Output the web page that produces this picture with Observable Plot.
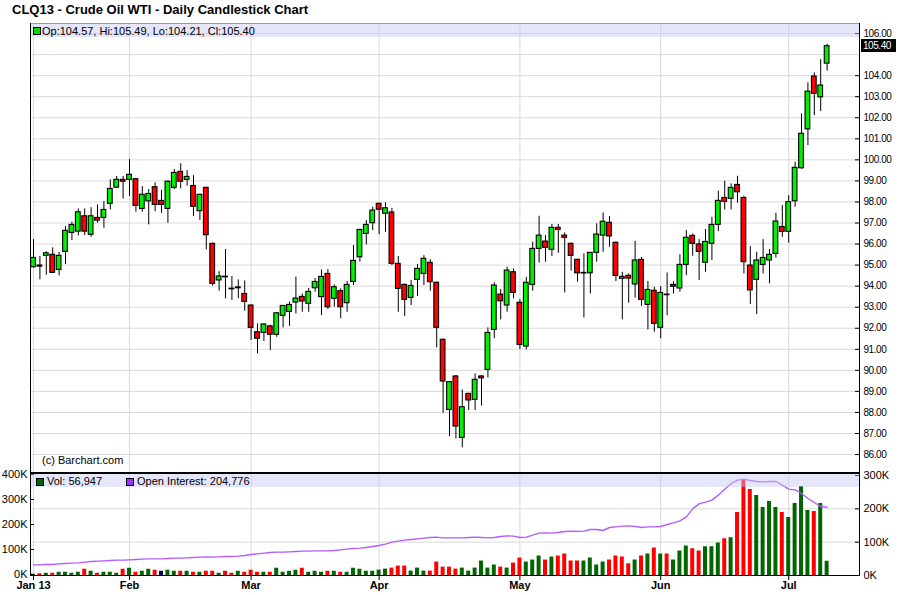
<!DOCTYPE html>
<html><head><meta charset="utf-8">
<script src="https://cdn.jsdelivr.net/npm/d3@7"></script>
<script src="https://cdn.jsdelivr.net/npm/@observablehq/plot@0.6"></script>
<style>
body{margin:0;background:#fff;font-family:"Liberation Sans",Arial,sans-serif;}
#wrap{position:relative;width:900px;height:595px;overflow:hidden;background:#fff;}
.abs{position:absolute;white-space:nowrap;}
</style></head><body><div id="wrap"></div><script>
// ---- data (CLQ13 daily, Jan 10 2013 .. Jul 10 2013) ----
const opens = [94.90,94.93,95.44,95.49,94.77,95.63,96.53,96.59,97.32,96.44,
97.24,97.24,97.91,98.68,99.05,99.05,99.08,97.67,98.03,98.70,
98.05,97.67,98.67,99.43,99.05,98.76,97.56,98.67,96.01,94.27,
94.45,93.88,93.90,93.63,93.08,91.81,91.78,92.09,91.69,92.59,
92.78,93.22,93.49,93.16,93.90,93.48,94.58,93.40,93.76,93.19,
94.20,95.37,96.48,96.99,97.91,97.44,97.50,95.06,94.06,93.44,
94.30,94.58,95.11,94.16,91.45,88.12,89.71,86.79,88.88,88.60,
89.71,90.02,91.92,93.60,93.08,94.66,93.21,91.13,94.06,95.77,
96.12,95.73,96.77,96.40,96.01,95.25,94.60,94.61,95.58,96.40,
97.01,96.06,94.35,94.49,94.08,95.25,93.11,93.78,92.02,93.60,
94.06,93.89,95.01,96.39,95.98,95.11,96.01,96.91,98.19,98.15,
98.81,98.19,94.98,94.30,95.01,95.22,95.53,96.81,96.58,98.03,
99.60,101.45,103.96,102.97,104.57];
const highs = [96.21,95.41,95.64,95.82,95.60,96.83,97.04,97.67,97.67,97.73,
97.86,98.02,99.05,99.21,99.21,100.01,99.12,98.73,98.59,98.91,
98.54,99.00,99.54,99.81,99.49,99.25,98.36,98.70,96.05,94.69,
95.74,94.46,94.30,94.25,93.10,92.21,92.21,92.15,92.75,93.08,
93.24,94.43,93.63,93.89,94.36,94.77,94.79,94.06,93.87,94.22,
95.93,96.70,97.12,97.75,97.95,97.96,97.70,95.41,94.10,94.27,
95.03,95.45,95.26,94.20,91.50,89.46,89.75,89.07,88.92,89.83,
89.75,92.02,94.16,93.84,94.90,94.82,93.36,94.42,96.09,97.32,
96.40,96.93,96.93,96.53,96.05,95.28,95.53,95.60,96.96,97.48,
97.31,96.10,94.66,94.58,96.13,95.37,94.22,93.95,93.98,94.63,
94.22,95.49,96.64,96.48,96.21,96.69,97.27,98.51,98.99,98.86,
99.22,98.27,95.88,95.61,96.21,95.74,97.46,97.83,98.30,99.89,
102.19,103.66,104.13,104.76,105.49];
const lows = [94.85,94.30,94.52,94.60,94.49,95.03,96.17,96.39,96.40,96.32,
96.99,96.75,97.62,98.65,98.13,98.26,97.51,97.51,96.91,97.54,
97.46,96.99,98.59,98.62,98.75,97.31,97.12,95.72,94.00,93.76,
93.40,93.32,93.40,92.81,91.42,90.78,91.37,90.94,91.57,92.02,
92.09,92.68,92.76,92.76,93.71,92.60,92.89,93.00,92.45,92.76,
94.03,95.14,95.96,96.64,96.44,96.56,94.98,92.76,92.56,93.08,
93.51,94.03,93.76,91.07,87.96,86.85,86.74,86.32,88.09,88.09,
88.30,89.64,91.50,92.40,92.76,93.40,90.99,90.97,93.76,95.09,
95.14,95.41,95.56,93.68,94.71,94.19,92.49,93.63,95.14,95.61,
95.85,94.22,92.40,93.19,93.43,93.04,91.92,91.81,91.50,92.60,
93.63,93.71,94.50,95.42,94.27,94.66,95.22,96.59,97.62,97.62,
97.94,94.58,93.13,92.65,94.58,94.11,95.33,96.32,96.04,97.75,
99.55,100.68,102.10,102.29,104.21];
const closes = [95.34,94.98,95.56,94.63,95.44,96.63,96.91,97.51,96.59,97.32,
97.11,97.62,98.62,99.05,98.96,99.29,97.81,98.34,98.38,97.86,
97.86,98.96,99.38,98.96,99.19,97.77,98.34,96.42,94.11,94.46,
94.42,93.85,93.94,93.25,92.02,91.50,92.18,91.69,92.71,93.06,
93.11,93.41,93.27,93.73,94.20,94.44,93.00,93.95,93.00,94.06,
95.20,96.67,96.91,97.59,97.63,97.70,95.06,93.87,93.35,94.01,
94.82,95.30,94.19,92.02,89.47,89.44,87.33,88.25,88.57,89.55,
89.62,91.78,94.03,93.28,94.74,93.68,91.21,94.16,95.77,96.40,
95.82,96.77,96.67,96.29,95.44,94.61,94.63,95.58,96.45,97.06,
96.36,94.49,94.44,94.36,95.22,93.35,93.82,92.21,93.68,93.57,
93.97,95.01,96.30,96.01,95.63,96.10,96.91,98.05,98.00,98.67,
98.46,95.14,93.80,95.22,95.34,95.49,97.07,96.58,97.99,99.62,
101.24,103.24,103.14,103.53,105.40];
// volume, thousands of contracts
const volumes = [5,7,9,9,13,13,9,13,25,17,
9,13,13,9,25,29,13,17,25,21,
17,21,17,17,17,13,13,17,17,9,
17,9,17,13,21,13,13,13,29,13,
17,21,29,13,17,13,17,17,13,13,
29,25,17,17,21.5,25.5,29.6,37.6,37.6,17.5,
29.6,17.5,17.5,53.8,33.6,33.6,25.5,29.6,17.5,29.6,
57.8,29.6,41.7,33.6,29.6,49.7,69.9,53.8,61.8,78,
61.8,74,78,86,58,58,58,70,42,54,
62,78,74,47,62,78,86,110,86,86,
62,98,118,107,98,115,115,130,147,151,
252,380,344,320,272,296,272,252,232,288,
356,260,256,288,56.947];
// open interest, thousands of contracts
const openInterest = [32,32,33,33,35,36,37,38,40,42,
43,44,45,46,46,47,48,49,50,50,
50,51,52,52,53,54,55,56,55,56,
57,57,58,60,63,65,67,69,70,70,
71,72,73,73,74,74,74,75,77,79,
81,82,84,87,90,94,100,103,106,108,
110,112,114,115,113,113,113,113,114,115,
114,113,114,117,119,118,114,115,121,127,
128,127,129,132,133,132,133,138,138,135,
144,146,148,149,147,144,146,146,147,153,
158,164,176,200,215,220,226,241,259,276,
286,289,285,282,281,282,282,271,259,257,
246,231,219,207,204.776];
const monthLabels = ["Jan 13","Feb","Mar","Apr","May","Jun","Jul"];
const monthStartIdx = [0,15,34,54,76,98,118];
const priceTicks = [86,87,88,89,90,91,92,93,94,95,96,97,98,99,100,101,102,103,104,105,106];
const volTicks = [0,100000,200000,300000,400000];
const oiTicks = [0,100000,200000,300000];
const legendMain = "Op:104.57, Hi:105.49, Lo:104.21, Cl:105.40";
const legendVol = "Vol: 56,947";
const legendOI = "Open Interest: 204,776";

// ---- build ----
const font = '"Liberation Sans", Arial, sans-serif';
const green = "#00ee00", red = "#ff0000";
const xDomain = [-0.47, 129.06];
const lastClose = closes[closes.length - 1];
const candles = closes.map((c, i) => ({
  i, open: opens[i], high: highs[i], low: lows[i], close: c,
  vol: volumes[i] * 1000, oi: openInterest[i] * 1000,
  chg: i === 0 ? 1 : Math.round((c - closes[i - 1]) * 100)
}));
const wrap = document.getElementById("wrap");

const main = Plot.plot({
  width: 900, height: 474, marginLeft: 30, marginRight: 41, marginTop: 24, marginBottom: 1,
  style: {fontFamily: font, fontSize: "10px", letterSpacing: "-0.45px", background: "transparent", overflow: "visible", color: "#000"},
  x: {domain: xDomain, axis: null},
  y: {domain: [85.10, 106.43]},
  color: {type: "identity"},
  marks: [
    Plot.ruleY(priceTicks, {stroke: "#d9d9d9"}),
    Plot.ruleX(monthStartIdx, {stroke: "#d9d9d9"}),
    Plot.ruleX(candles, {x: "i", y1: "low", y2: "high", stroke: "#000", strokeWidth: 1}),
    Plot.rect(candles, {x1: d => d.i - 0.37, x2: d => d.i + 0.37, y1: "open", y2: "close",
      fill: d => d.close >= d.open ? green : red, stroke: "#000", strokeWidth: 1.1}),
    Plot.axisY(priceTicks, {anchor: "right", label: null, tickSize: 0, text: null}),
    Plot.axisY(priceTicks.filter(t => Math.abs(t - lastClose) > 0.5), {anchor: "right", label: null, tickSize: -5, tickPadding: 9, tickFormat: d => d.toFixed(2)})
  ]
});
main.style.position = "absolute"; main.style.left = "0px"; main.style.top = "0px";
wrap.appendChild(main);

const volMax = 400000, oiMax = 300000, k = volMax / oiMax;
const vol = Plot.plot({
  width: 900, height: 122, marginLeft: 30, marginRight: 41, marginTop: 2, marginBottom: 20,
  style: {fontFamily: font, fontSize: "11px", background: "transparent", overflow: "visible", color: "#000"},
  x: {domain: xDomain},
  y: {domain: [0, volMax]},
  color: {type: "identity"},
  marks: [
    Plot.ruleY(oiTicks.filter(v => v > 0 && v < oiMax), {y: d => d * k, stroke: "#d9d9d9"}),
    Plot.ruleX(monthStartIdx, {stroke: "#d9d9d9"}),
    Plot.rect(candles, {x1: d => d.i - 0.31, x2: d => d.i + 0.31, y1: 0, y2: "vol",
      fill: d => d.chg > 0 ? "#006600" : d.chg < 0 ? "#ff0000" : "#000066"}),
    Plot.line(candles, {x: "i", y: d => d.oi * k, stroke: "#b35cff", strokeWidth: 1.4}),
    Plot.axisY(volTicks, {anchor: "left", label: null, tickSize: -4, tickPadding: 7, dy: -1, tickFormat: d => d / 1000 + "K"}),
    Plot.axisY(oiTicks.map(v => v * k), {anchor: "right", label: null, tickSize: -5, tickPadding: 9, tickFormat: d => Math.round(d / k / 1000) + "K"}),
    Plot.axisX(monthStartIdx, {anchor: "bottom", label: null, tickSize: 5, tickPadding: 1, fontWeight: "bold",
      tickFormat: d => monthLabels[monthStartIdx.indexOf(d)]})
  ]
});
vol.style.position = "absolute"; vol.style.left = "0px"; vol.style.top = "473px";
wrap.appendChild(vol);

function box(css, text) {
  const d = document.createElement("div");
  d.className = "abs";
  d.style.cssText += css;
  if (text != null) d.textContent = text;
  wrap.appendChild(d);
  return d;
}
const band = "rgba(200,200,245,0.45)";
// title
box("left:12px;top:2px;font:bold 13px/16px " + font + ";color:#000;", "CLQ13 - Crude Oil WTI - Daily Candlestick Chart");
// main legend band
box("left:30px;top:23px;width:829px;height:1px;background:#999;");
box("left:31px;top:24px;width:828px;height:13px;background:" + band + ";");
box("left:33px;top:27px;width:6px;height:6px;background:#00dd00;border:1px solid #000;");
box("left:42px;top:25px;font:11px/13px " + font + ";color:#000;", legendMain);
// copyright
box("left:42px;top:454px;font:11px/13px " + font + ";color:#000;", "(c) Barchart.com");
// last price box
const yLast = main.scale("y").apply(lastClose);
box("left:861px;top:" + (yLast - 6.5) + "px;width:35px;height:13px;background:#000;color:#fff;font:10px/13px " + font + ";letter-spacing:-0.45px;text-indent:2px;", lastClose.toFixed(2));
// frame lines
box("left:30px;top:23px;width:1px;height:553px;background:#000;");
box("left:859px;top:23px;width:1px;height:553px;background:#000;");
box("left:30px;top:472px;width:830px;height:2px;background:#000;");
box("left:30px;top:575px;width:830px;height:1px;background:#000;");
// volume legend band
box("left:31px;top:474px;width:828px;height:13px;background:" + band + ";");
box("left:36px;top:478px;width:6px;height:6px;background:#006600;border:1px solid #000;");
box("left:47px;top:475px;font:11px/13px " + font + ";color:#000;", legendVol);
box("left:126px;top:478px;width:6px;height:6px;background:#9933ff;border:1px solid #000;");
box("left:137px;top:475px;font:11px/13px " + font + ";color:#000;", legendOI);
</script></body></html>
